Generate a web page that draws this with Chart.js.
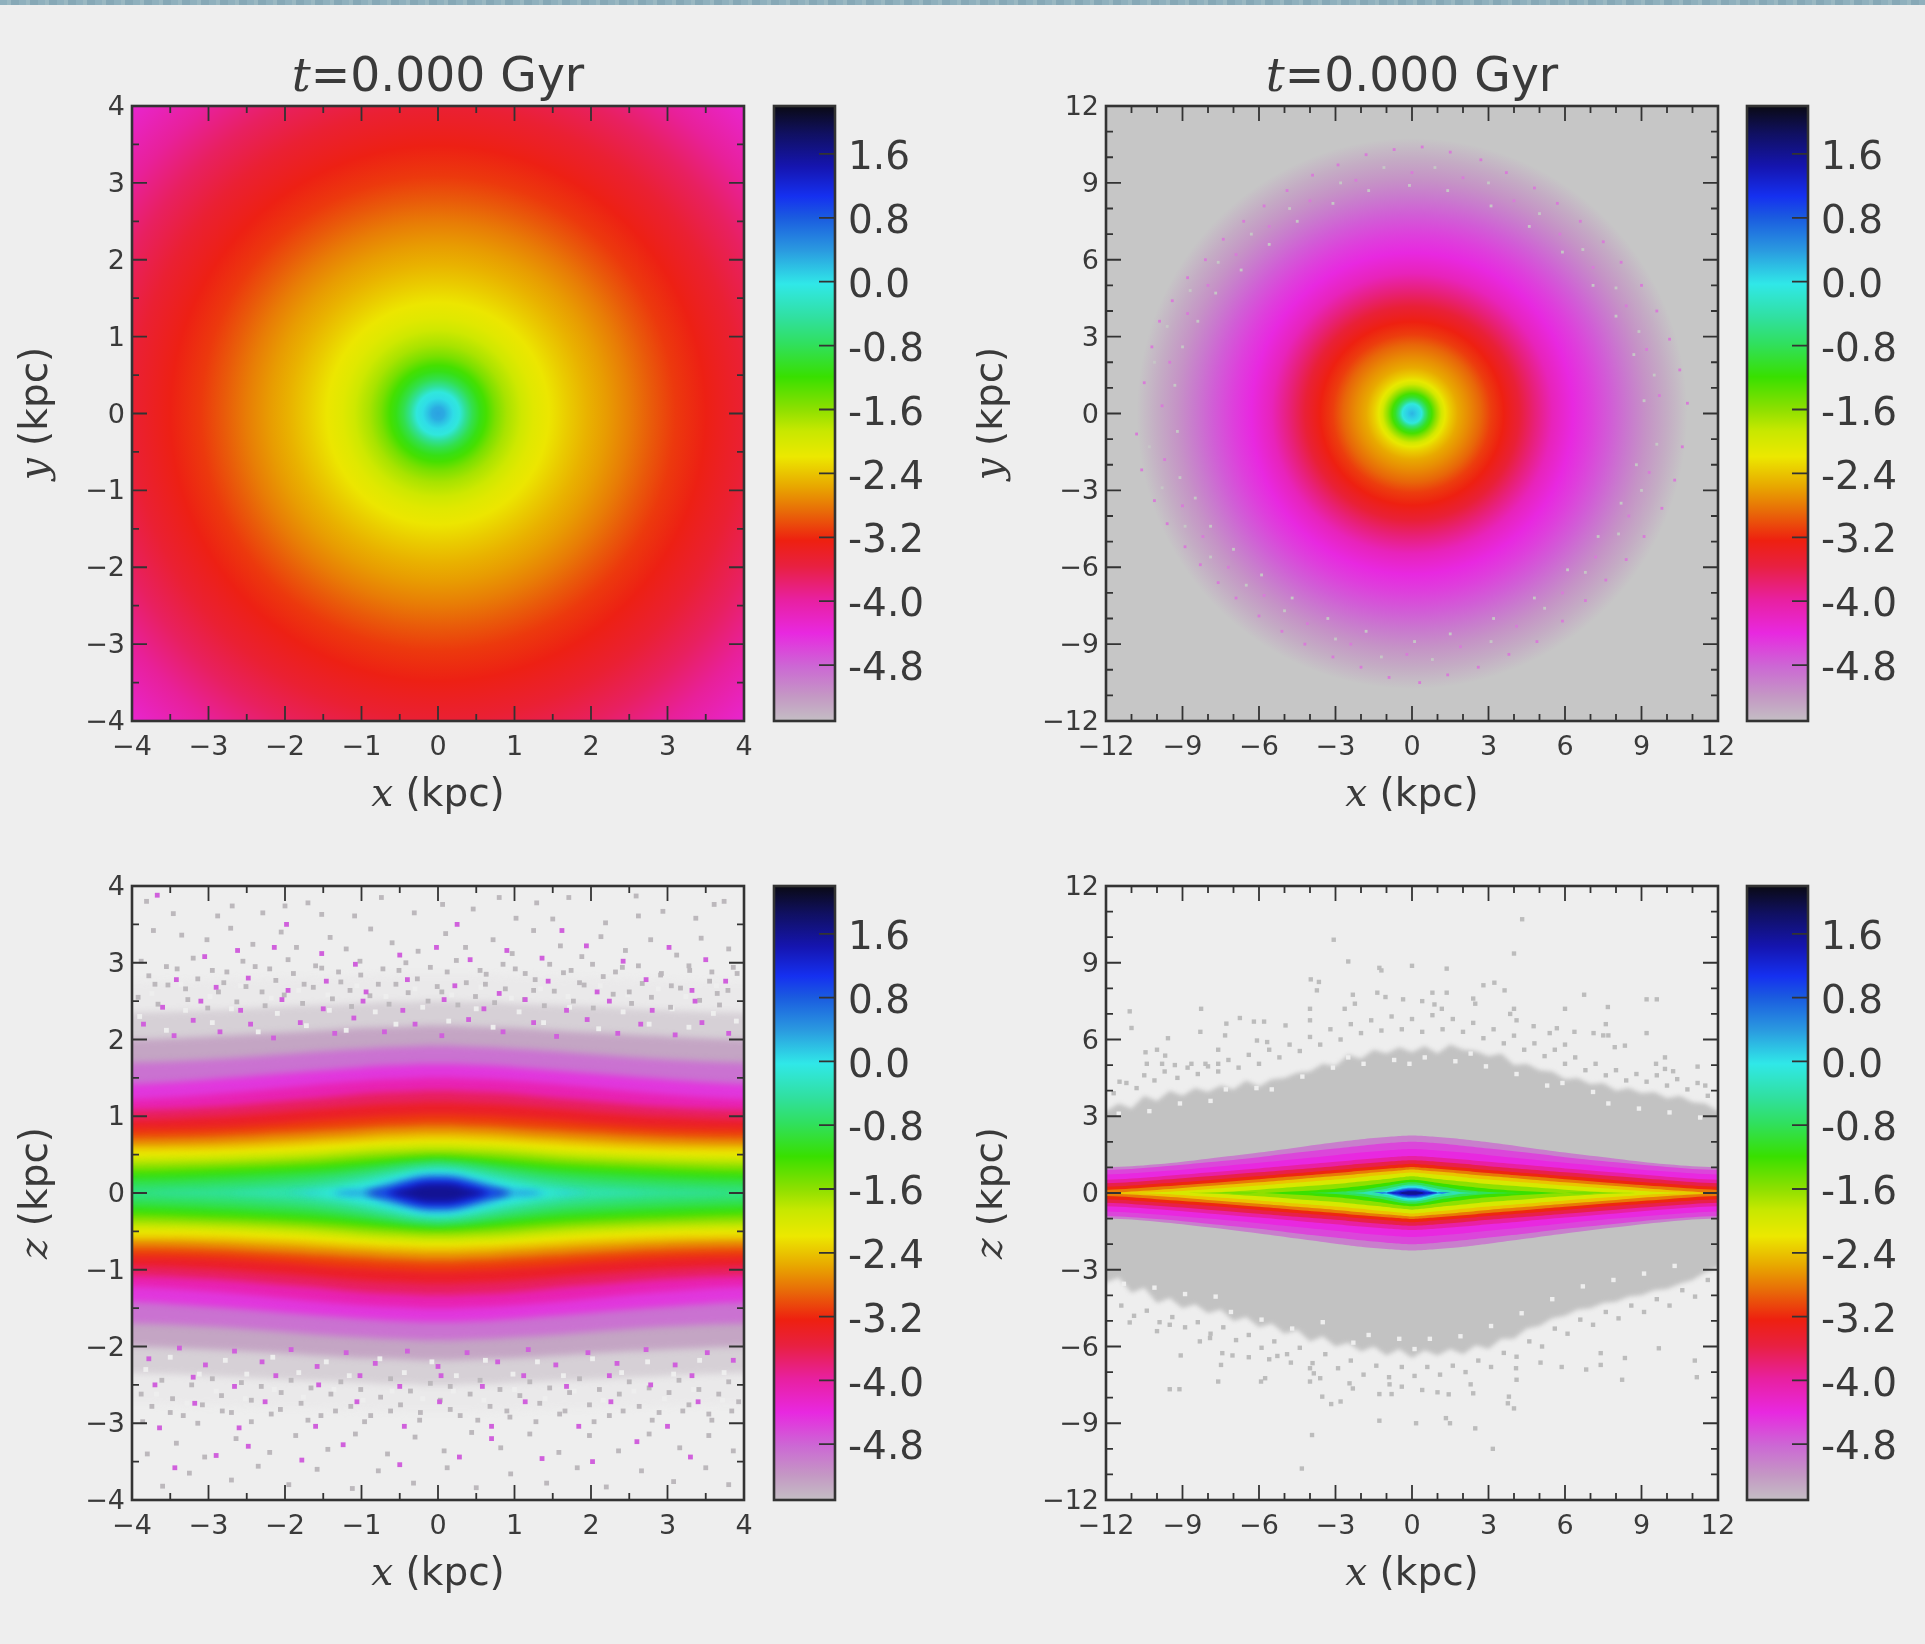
<!DOCTYPE html>
<html>
<head>
<meta charset="utf-8">
<title>t=0.000 Gyr</title>
<script src="https://cdn.jsdelivr.net/npm/chart.js@4"></script>
<style>
  html, body { margin: 0; padding: 0; background: #eeeeee; }
  body { position: relative; width: 1925px; height: 1644px; overflow: hidden; }
  #strip {
    position: absolute; left: 0; top: 0; width: 1925px; height: 5px;
    background: repeating-linear-gradient(90deg, #8fb0bd 0 7px, #9ab8c2 7px 11px, #86a8b6 11px 19px);
  }
  canvas { position: absolute; filter: blur(0.7px); }
</style>
</head>
<body>
<div id="strip"></div>
<script>
'use strict';

/* ---------- data ---------- */

// axis ticks
const innerTicks = [-4, -3, -2, -1, 0, 1, 2, 3, 4];
const innerMinor = [-3.5, -2.5, -1.5, -0.5, 0.5, 1.5, 2.5, 3.5];
const outerTicks = [-12, -9, -6, -3, 0, 3, 6, 9, 12];
const outerMinor = [-11, -10, -8, -7, -5, -4, -2, -1, 1, 2, 4, 5, 7, 8, 10, 11];
const cbarTicks = [1.6, 0.8, 0.0, -0.8, -1.6, -2.4, -3.2, -4.0, -4.8];
const cbarRange = [-5.5, 2.2];

// colour bar: value -> colour (values below -5.5 are the thinned out speckle zone)
const cmapValues = [2.2, 1.86, 1.44, 1.07, 0.81, 0.39, -0.03, -0.45, -0.77, -1.19, -1.61, -1.87, -2.19, -2.56, -2.87, -3.24, -3.56, -3.98, -4.4, -4.82, -5.19, -5.5, -5.9, -6.4];
const cmapColors = ['#0a0a14', '#101060', '#1515b0', '#1530f0', '#1a5ae0', '#2a9ae0', '#30e8e8', '#30e0a0', '#30e060', '#38e000', '#90e000', '#c8e800', '#ece800', '#e8a800', '#e86c08', '#ee2010', '#e82040', '#e820a0', '#e828e0', '#cc68d4', '#c498c4', '#c4bec4', '#dcd6dc', '#eeeeee'];

// face-on profiles, radius (kpc) and value
const xyInnerRadius = [0, 0.08, 0.13, 0.2, 0.28, 0.36, 0.45, 0.55, 0.63, 0.75, 0.9, 1.09, 1.25, 1.45, 1.7, 1.95, 2.2, 2.5, 2.8, 3.1, 3.5, 4, 4.5, 5, 5.4, 5.7];
const xyInnerValue = [0.35, 0.3, 0.18, 0.03, -0.1, -0.5, -0.85, -1.1, -1.25, -1.5, -1.72, -1.92, -2.08, -2.2, -2.36, -2.5, -2.62, -2.78, -2.96, -3.12, -3.27, -3.47, -3.7, -3.95, -4.15, -4.3];
const xyOuterRadius = [0, 0.2, 0.38, 0.5, 0.65, 0.78, 0.95, 1.15, 1.3, 1.5, 1.8, 2.2, 2.7, 3.1, 3.6, 4.2, 4.8, 5.5, 6.3, 7, 7.8, 8.5, 9.2, 10, 10.8];
const xyOuterValue = [0.25, 0.1, -0.1, -0.6, -1.0, -1.25, -1.6, -1.95, -2.15, -2.35, -2.55, -2.7, -2.9, -3.1, -3.25, -3.5, -3.8, -4.15, -4.4, -4.55, -4.75, -4.95, -5.15, -5.35, -5.5];

// grain at the rim of the wide face-on disc
const rimPinkDots = [
  [-10.5, 1.2], [-10.8, -0.8], [-10.2, 2.6], [-10.6, -2.2], [-9.9, 3.6], [-10.1, -3.4], [-9.4, 4.4], [-9.6, -4.3], [-8.8, 5.3], [-8.9, -5.2], [-8.1, 6], [-8.3, -5.9], [-7.4, 6.8], [-7.6, -6.6], [-6.6, 7.5], [-6.9, -7.2],
  [-5.8, 8.1], [-6, -7.9], [-4.9, 8.7], [-5.1, -8.5], [-3.9, 9.3], [-4.2, -9], [-2.9, 9.7], [-3.1, -9.5], [-1.8, 10.1], [-2, -9.9], [-0.7, 10.3], [-0.9, -10.3], [0.4, 10.4], [0.3, -10.5], [1.5, 10.2], [1.4, -10.2],
  [2.7, 9.9], [2.6, -9.9], [3.7, 9.4], [3.8, -9.4], [4.8, 8.8], [4.9, -8.9], [5.7, 8.2], [5.9, -8.1], [6.6, 7.5], [6.8, -7.3], [7.5, 6.7], [7.6, -6.5], [8.2, 5.9], [8.4, -5.7], [9, 5], [9.1, -4.8], [9.6, 4], [9.8, -3.7],
  [10.1, 2.9], [10.3, -2.6], [10.5, 1.7], [10.6, -1.3], [10.8, 0.4], [-9.8, 0.3], [-9.5, 2], [-9.7, -1.8], [-8.8, 3.9], [-9, -3.6], [-8, 5], [-8.2, -4.8], [-6.9, 6.2], [-7.2, -6], [-5.6, 7.3], [-5.8, -7.1],
  [-4, 8.3], [-4.1, -8.2], [-2.2, 9.1], [-2.4, -9], [0, 9.4], [-0.2, -9.4], [2, 9.2], [1.9, -9.1], [4, 8.3], [4.1, -8.3], [5.8, 7], [5.9, -7], [7.1, 5.7], [7.2, -5.6], [8.4, 4.2], [8.5, -4], [9.2, 2.5], [9.3, -2.3], [9.7, 0.7]
];
const rimGreyDots = [
  [-9.3, 1.1], [-9.2, -0.7], [-9, 2.6], [-9.1, -2.5], [-8.4, 3.6], [-8.5, -3.3], [-7.7, 4.7], [-7.9, -4.4], [-6.7, 5.6], [-7, -5.3], [-5.6, 6.6], [-5.9, -6.3], [-4.5, 7.5], [-4.7, -7.2], [-3.1, 8.2], [-3.3, -8],
  [-1.7, 8.7], [-1.8, -8.5], [-0.1, 8.9], [0.1, -8.9], [1.4, 8.7], [1.5, -8.6], [3.1, 8.1], [3.2, -8], [4.6, 7.3], [4.8, -7.2], [5.9, 6.3], [6.1, -6.1], [7.1, 5], [7.3, -4.8], [8, 3.8], [8.2, -3.5], [8.7, 2.3], [8.8, -2], [9.1, 0.5],
  [-10.1, 2], [-10.3, -1.3], [-9.6, 3.4], [-9.8, -2.9], [-8.7, 4.8], [-8.9, -4.4], [-7.6, 5.9], [-7.9, -5.6], [-6.3, 7], [-6.5, -6.7], [-4.8, 8], [-5, -7.7], [-2.8, 9], [-3, -8.8], [-1.1, 9.6], [-1.2, -9.5],
  [0.9, 9.6], [0.8, -9.6], [3, 9], [3.1, -8.9], [5, 7.8], [5.2, -7.6], [6.7, 6.4], [6.8, -6.2], [8, 4.9], [8.1, -4.7], [8.9, 3.2], [9, -3], [9.5, 1.5], [9.6, -1.2]
];

// edge-on contours: half height (kpc) of each level at the listed |x|
const xzInnerX = [0, 0.2, 0.4, 0.7, 1, 1.5, 2, 3, 4];
const xzInnerLevels = [1.6, 1.3, 1.0, 0.7, 0.4, 0.1, -0.1, -0.3, -0.5, -0.7, -0.9, -1.1, -1.3, -1.6, -1.9, -2.2, -2.5, -2.8, -3.1, -3.4, -3.7, -4.1, -4.5, -4.9, -5.3, -5.8, -6.3];
const xzInnerHeights = [
  [0.10, 0.09, 0.04, 0, 0, 0, 0, 0, 0],
  [0.14, 0.13, 0.08, 0, 0, 0, 0, 0, 0],
  [0.17, 0.16, 0.12, 0.03, 0, 0, 0, 0, 0],
  [0.20, 0.19, 0.15, 0.07, 0, 0, 0, 0, 0],
  [0.23, 0.22, 0.18, 0.10, 0.02, 0, 0, 0, 0],
  [0.26, 0.25, 0.21, 0.14, 0.06, 0, 0, 0, 0],
  [0.29, 0.28, 0.25, 0.18, 0.12, 0.03, 0, 0, 0],
  [0.32, 0.31, 0.28, 0.23, 0.17, 0.09, 0.03, 0, 0],
  [0.36, 0.35, 0.33, 0.28, 0.23, 0.16, 0.11, 0.05, 0.02],
  [0.40, 0.39, 0.37, 0.33, 0.29, 0.23, 0.19, 0.14, 0.11],
  [0.42, 0.41, 0.40, 0.37, 0.34, 0.29, 0.26, 0.21, 0.18],
  [0.45, 0.44, 0.43, 0.41, 0.38, 0.34, 0.31, 0.27, 0.24],
  [0.49, 0.49, 0.48, 0.46, 0.44, 0.40, 0.37, 0.33, 0.30],
  [0.56, 0.56, 0.55, 0.54, 0.52, 0.48, 0.45, 0.41, 0.39],
  [0.64, 0.64, 0.63, 0.62, 0.60, 0.56, 0.53, 0.49, 0.47],
  [0.72, 0.72, 0.71, 0.70, 0.68, 0.65, 0.62, 0.58, 0.57],
  [0.81, 0.81, 0.80, 0.79, 0.77, 0.74, 0.71, 0.66, 0.64],
  [0.90, 0.90, 0.89, 0.88, 0.86, 0.83, 0.80, 0.75, 0.73],
  [1.02, 1.02, 1.01, 1.00, 0.98, 0.95, 0.91, 0.85, 0.83],
  [1.18, 1.18, 1.17, 1.16, 1.14, 1.10, 1.06, 0.99, 0.95],
  [1.33, 1.33, 1.32, 1.31, 1.29, 1.24, 1.20, 1.12, 1.08],
  [1.50, 1.50, 1.49, 1.48, 1.46, 1.42, 1.37, 1.28, 1.22],
  [1.68, 1.68, 1.67, 1.66, 1.64, 1.60, 1.56, 1.48, 1.42],
  [1.92, 1.92, 1.91, 1.90, 1.88, 1.85, 1.81, 1.74, 1.70],
  [2.18, 2.18, 2.17, 2.16, 2.15, 2.12, 2.09, 2.04, 2.00],
  [2.50, 2.50, 2.49, 2.49, 2.47, 2.45, 2.43, 2.38, 2.35],
  [2.85, 2.85, 2.85, 2.84, 2.83, 2.81, 2.80, 2.77, 2.75]
];

const xzOuterX = [0, 0.3, 0.6, 1, 1.5, 2, 3, 4.5, 6, 8, 10, 12];
const xzOuterLevels = [1.6, 1.2, 0.8, 0.4, 0.0, -0.4, -0.8, -1.2, -1.6, -2.0, -2.4, -2.8, -3.2, -3.6, -4.0, -4.4, -4.6, -5.0];
const xzOuterHeights = [
  [0.07, 0.05, 0, 0, 0, 0, 0, 0, 0, 0, 0, 0],
  [0.12, 0.10, 0.05, 0, 0, 0, 0, 0, 0, 0, 0, 0],
  [0.17, 0.15, 0.09, 0, 0, 0, 0, 0, 0, 0, 0, 0],
  [0.21, 0.19, 0.13, 0.03, 0, 0, 0, 0, 0, 0, 0, 0],
  [0.27, 0.25, 0.18, 0.08, 0, 0, 0, 0, 0, 0, 0, 0],
  [0.33, 0.31, 0.25, 0.17, 0.10, 0.03, 0, 0, 0, 0, 0, 0],
  [0.42, 0.40, 0.35, 0.27, 0.20, 0.13, 0.04, 0, 0, 0, 0, 0],
  [0.52, 0.50, 0.46, 0.40, 0.33, 0.27, 0.17, 0.07, 0, 0, 0, 0],
  [0.65, 0.63, 0.60, 0.55, 0.50, 0.45, 0.35, 0.24, 0.13, 0.02, 0, 0],
  [0.80, 0.78, 0.75, 0.71, 0.67, 0.62, 0.53, 0.41, 0.29, 0.15, 0.03, 0],
  [0.92, 0.90, 0.87, 0.84, 0.80, 0.75, 0.66, 0.54, 0.42, 0.27, 0.12, 0.02],
  [1.02, 1.00, 0.98, 0.95, 0.91, 0.87, 0.78, 0.66, 0.54, 0.38, 0.24, 0.12],
  [1.14, 1.12, 1.10, 1.07, 1.03, 0.99, 0.90, 0.78, 0.66, 0.50, 0.36, 0.24],
  [1.28, 1.27, 1.25, 1.22, 1.18, 1.14, 1.05, 0.93, 0.81, 0.65, 0.50, 0.38],
  [1.45, 1.44, 1.42, 1.39, 1.35, 1.31, 1.22, 1.09, 0.96, 0.80, 0.64, 0.52],
  [1.72, 1.71, 1.69, 1.66, 1.62, 1.58, 1.48, 1.33, 1.18, 1.00, 0.84, 0.72],
  [2.00, 1.99, 1.97, 1.94, 1.90, 1.85, 1.74, 1.58, 1.40, 1.20, 1.02, 0.90],
  [2.25, 2.24, 2.22, 2.19, 2.15, 2.10, 1.98, 1.78, 1.58, 1.34, 1.12, 1.00]
];

// grey lens of the wide edge-on panel, ragged dense edge
const lensX = [-12.5, -12, -11.5, -11, -10.5, -10, -9.5, -9, -8.5, -8, -7.5, -7, -6.5, -6, -5.5, -5, -4.5, -4, -3.5, -3, -2.5, -2, -1.5, -1, -0.5, 0, 0.5, 1, 1.5, 2, 2.5, 3, 3.5, 4, 4.5, 5, 5.5, 6, 6.5, 7, 7.5, 8, 8.5, 9, 9.5, 10, 10.5, 11, 11.5, 12, 12.5];
const lensTopZ = [3.0, 3.2, 3.5, 3.3, 3.8, 3.6, 4.0, 3.8, 4.1, 3.95, 4.2, 4.05, 4.4, 4.15, 4.45, 4.5, 4.7, 4.75, 5.05, 4.95, 5.4, 5.25, 5.6, 5.45, 5.7, 5.5, 5.75, 5.45, 5.8, 5.6, 5.55, 5.35, 5.45, 5.0, 5.05, 4.8, 4.75, 4.45, 4.5, 4.25, 4.3, 4.0, 4.1, 3.9, 3.95, 3.7, 3.8, 3.55, 3.5, 3.2, 3.0];
const lensBottomZ = [-3.3, -3.5, -3.3, -3.9, -3.7, -4.3, -4.1, -4.5, -4.35, -4.7, -4.55, -5.0, -4.85, -5.25, -5.1, -5.5, -5.35, -5.8, -5.6, -6.0, -5.85, -6.2, -6.0, -6.35, -6.1, -6.45, -6.15, -6.35, -6.1, -6.3, -5.95, -6.1, -5.7, -5.7, -5.3, -5.2, -4.9, -4.8, -4.55, -4.5, -4.3, -4.25, -4.05, -4.0, -3.8, -3.75, -3.55, -3.4, -3.1, -2.9, -2.7];

// sparse dots of the wide edge-on panel
const wideDots = [
  [-3.07, 9.9], [-2.5, 9.05], [-1.28, 8.8], [-1.2, 8.7], [0, 8.88], [1.36, 8.77], [4, 9.36], [4.32, 10.7], [-3.97, 8.35], [-3.65, 8.25], [-3.73, 7.92],
  [-2.32, 7.75], [-1.36, 7.83], [-1.04, 7.66], [-0.35, 7.57], [0.4, 7.5], [0.8, 7.83], [1.36, 7.83], [0.88, 7.37], [1.17, 7.2], [2.8, 8.12], [3.23, 8.22],
  [3.63, 7.92], [2.4, 7.6], [2.48, 7.4], [6.75, 7.75], [9.2, 7.57], [9.6, 7.57], [7.68, 7.27], [6, 7.2], [4, 7.2], [3.85, 7], [4.1, 6.75], [-11.07, 7.1],
  [-11, 6.45], [-8.27, 7.2], [-8.3, 6.3], [-9.57, 6.05], [-7.28, 6.62], [-6.75, 6.84], [-6.2, 6.7], [-5.8, 6.7], [-7.33, 6.16], [-4, 7.2], [-4, 6.75],
  [-2.64, 7.2], [-2.24, 7.4], [-4.96, 6.55], [-6.08, 5.96], [-5.68, 5.9], [-7.6, 5.6], [-10.45, 5.5], [-10, 5.6], [-9.68, 5.37], [-10.4, 5.05], [-9.8, 5.05],
  [-9.3, 5], [-8.65, 5.05], [-8.1, 5.05], [-7.6, 5.05], [7.6, 6.6], [4.77, 6.52], [5.68, 6.44], [6.37, 6.3], [5.4, 6.25], [7.12, 6.25], [7.5, 6.16], [7.7, 6.16],
  [9.2, 6.25], [6, 5.8], [7.95, 5.7], [8.35, 5.76], [9.92, 5.3], [9.57, 5.05], [11.2, 4.94], [9.92, 4.85], [10.24, 4.76], [11.5, 4.2], [-11.47, 4.35],
  [-4.32, -10.77], [-3.92, -9.46], [3.17, -10], [2.48, -9.2], [-1.28, -8.9], [0.16, -9], [1.33, -8.8], [1.49, -9], [4, -8.42], [3.76, -8.22], [3.8, -7.96],
  [-3.52, -7.96], [-3.17, -8.25], [-2.8, -8.15], [-1.28, -7.86], [-0.8, -7.86], [-0.4, -7.57], [0.4, -7.7], [1, -7.79], [1.44, -7.87], [2.4, -7.83], [2.3, -7.48],
  [-0.88, -7.48], [-2.32, -7.64], [-2.45, -7.44], [-9.5, -7.67], [-9.12, -7.67], [-7.6, -7.37], [-5.92, -7.37], [-5.76, -7.24], [-7.49, -6.72], [-7.44, -6.26],
  [-7.04, -6.35], [-6.4, -6.42], [-9.07, -6.35], [-8.32, -5.8], [-7.92, -5.67], [-5.6, -6.5], [-5.28, -6.37], [-4.75, -6.63], [-4, -6.85], [-3.85, -7.05],
  [-3.6, -7.24], [-4, -7.37], [4.08, -6.85], [4.1, -7.3], [5.04, -6.63], [5.87, -6.8], [6.83, -6.9], [7.4, -6.72], [7.4, -6.26], [8.35, -6.45], [8.24, -7.3],
  [11.09, -6.55], [11.17, -7.2], [9.68, -6.07], [-11.07, -5.06], [-10, -5.4], [-9.5, -5.15],
  // loose grains just off the lens edge
  [-11.7, 3.9], [-11.2, 4.3], [-10.8, 4.1], [-10.5, 4.6], [-10.1, 4.4], [-9.7, 4.75], [-9.2, 4.5], [-8.8, 4.9], [-8.4, 4.65], [-8, 4.95], [-7.6, 4.75], [-7.2, 5.2], [-6.8, 4.9], [-6.4, 5.4], [-6, 5.05],
  [-5.6, 5.6], [-5.2, 5.3], [-4.8, 5.8], [-4.4, 5.55], [-4, 6.1], [-3.6, 5.8], [-3.2, 6.4], [-2.8, 6], [-2.4, 6.6], [-2, 6.25], [-1.6, 6.75], [-1.2, 6.35], [-0.8, 6.9], [-0.4, 6.4], [0, 6.8],
  [0.4, 6.3], [0.8, 6.95], [1.2, 6.4], [1.6, 6.8], [2, 6.3], [2.4, 6.65], [2.8, 6.05], [3.2, 6.4], [3.6, 5.85], [4, 6.15], [4.4, 5.6], [4.8, 5.85], [5.2, 5.35], [5.6, 5.6], [6, 5.05], [6.4, 5.3],
  [6.8, 4.8], [7.2, 5.05], [7.6, 4.6], [8, 4.8], [8.4, 4.4], [8.8, 4.65], [9.2, 4.35], [9.6, 4.6], [10, 4.2], [10.4, 4.45], [10.8, 4.05], [11.2, 4.3], [11.6, 3.8], [-11.4, -4.4], [-10.9, -4.8], [-10.4, -4.6],
  [-9.9, -5.05], [-9.4, -4.85], [-8.9, -5.25], [-8.4, -5.05], [-7.9, -5.5], [-7.4, -5.25], [-6.9, -5.75], [-6.4, -5.55], [-5.9, -6.05], [-5.4, -5.8], [-4.9, -6.3], [-4.4, -6.05], [-3.9, -6.65], [-3.4, -6.3], [-2.9, -6.85], [-2.4, -6.55],
  [-1.9, -7.1], [-1.4, -6.75], [-0.9, -7.2], [-0.4, -6.8], [0.1, -7.15], [0.6, -6.8], [1.1, -7.1], [1.6, -6.75], [2.1, -7], [2.6, -6.55], [3.1, -6.8], [3.6, -6.25], [4.1, -6.4], [4.6, -5.8], [5.1, -6], [5.6, -5.3], [6.1, -5.5],
  [6.6, -4.95], [7.1, -5.15], [7.6, -4.65], [8.1, -4.9], [8.6, -4.4], [9.1, -4.65], [9.6, -4.15], [10.1, -4.4], [10.6, -3.8], [11.1, -4.05], [11.6, -3.4]
];
// bare spots punched into the lens near its edge
const wideHoles = [
  [-11.5, 3.1], [-10.3, 3.2], [-9.1, 3.5], [-7.9, 3.6], [-7.3, 4.05], [-6.1, 4.1], [-5.5, 4.05], [-4.3, 4.55], [-3.1, 4.9], [-2.5, 5.3], [-1.9, 5.05], [-0.7, 5.2], [-0.1, 5.05], [0.5, 5.3], [1.7, 5.15], [2.3, 5.45], [2.9, 4.95], [4.1, 4.65], [5.3, 4.2], [5.9, 4.3], [7.1, 3.95], [7.7, 3.5], [8.9, 3.3], [10.1, 3.15], [11.3, 2.95],
  [-11.3, -3.55], [-10.1, -3.7], [-8.9, -3.95], [-7.7, -4.05], [-7.1, -4.65], [-5.9, -4.95], [-4.7, -5.3], [-3.5, -5.05], [-2.3, -5.85], [-1.7, -5.55], [-0.5, -5.7], [0.1, -6.1], [0.7, -5.7], [1.9, -5.6], [3.1, -5.2], [4.3, -4.7], [5.5, -4.15], [6.7, -3.65], [7.9, -3.4], [9.1, -3.15], [10.3, -2.85]
];

// sparse dots of the narrow edge-on panel, grey, pink and bare spots
const narrowGreyDots = [
  [-3.81, 3.8], [-3.46, 3.64], [-2.88, 3.61], [-2.69, 3.74], [-2.29, 3.65], [-2, 3.74], [-1.7, 3.78], [-1.52, 3.63], [-1.09, 3.61], [-0.74, 3.85], [-0.31, 3.65],
  [0.06, 3.76], [0.46, 3.7], [0.8, 3.85], [1.02, 3.58], [1.29, 3.78], [1.5, 3.57], [1.71, 3.85], [2.19, 3.52], [2.59, 3.87], [2.62, 3.61], [2.94, 3.67], [3.37, 3.58],
  [3.61, 3.76], [3.74, 3.8], [-3.72, 3.42], [-3.35, 3.36], [-3.02, 3.3], [-2.71, 3.45], [-2.42, 3.24], [-2.05, 3.4], [-1.85, 3.2], [-1.41, 3.33], [-1.2, 3.18], [-0.88, 3.44],
  [-0.6, 3.26], [-0.26, 3.15], [0.1, 3.38], [0.36, 3.2], [0.72, 3.3], [0.97, 3.12], [1.25, 3.42], [1.6, 3.22], [1.88, 3.08], [2.13, 3.34], [2.45, 3.16], [2.78, 3.3], [3.12, 3.1],
  [3.44, 3.32], [3.8, 3.18], [-3.88, 3.02], [-3.55, 2.95], [-3.2, 3.06], [-2.95, 2.9], [-2.55, 3.02], [-2.2, 2.92], [-1.96, 3.04], [-1.6, 2.96], [-1.3, 2.88], [-1.02, 3.02],
  [-0.72, 2.92], [-0.42, 3], [-0.1, 2.94], [0.24, 3.03], [0.55, 2.9], [0.85, 2.98], [1.14, 2.86], [1.46, 2.98], [1.74, 2.9], [2.02, 2.98], [2.32, 2.88], [2.62, 2.96],
  [2.92, 2.86], [3.28, 2.96], [3.58, 2.88], [3.86, 2.94], [-3.7, 2.72], [-3.3, 2.66], [-2.8, 2.74], [-2.3, 2.62], [-1.75, 2.72], [-1.15, 2.64], [-0.55, 2.72], [0.05, 2.62], [0.62, 2.72],
  [1.25, 2.64], [1.85, 2.74], [2.5, 2.62], [3.05, 2.7], [3.65, 2.6],
  [-3.92, 2.55], [-3.78, 2.83], [-3.66, 2.46], [-3.53, 2.71], [-3.41, 2.92], [-3.27, 2.52], [-3.14, 2.79], [-3.01, 2.41], [-2.87, 2.62], [-2.76, 2.88], [-2.63, 2.49], [-2.51, 2.69], [-2.39, 2.95], [-2.26, 2.44], [-2.12, 2.77], [-2.01, 2.58],
  [-1.89, 2.86], [-1.77, 2.47], [-1.63, 2.68], [-1.52, 2.93], [-1.38, 2.53], [-1.27, 2.75], [-1.13, 2.43], [-1.01, 2.84], [-0.89, 2.57], [-0.78, 2.72], [-0.64, 2.46], [-0.51, 2.9], [-0.39, 2.61], [-0.27, 2.79], [-0.13, 2.5], [-0.01, 2.69],
  [0.12, 2.88], [0.26, 2.45], [0.37, 2.74], [0.49, 2.56], [0.63, 2.85], [0.74, 2.48], [0.88, 2.66], [1.01, 2.92], [1.13, 2.52], [1.27, 2.78], [1.39, 2.44], [1.52, 2.63], [1.64, 2.87], [1.77, 2.5], [1.91, 2.71], [2.03, 2.41], [2.16, 2.82],
  [2.29, 2.59], [2.41, 2.94], [2.53, 2.47], [2.67, 2.73], [2.79, 2.55], [2.91, 2.84], [3.04, 2.42], [3.17, 2.67], [3.29, 2.9], [3.42, 2.51], [3.55, 2.76], [3.68, 2.45], [3.79, 2.64], [3.91, 2.86],
  [-3.6, -3.82], [-3.25, -3.65], [-2.7, -3.74], [-2.35, -3.56], [-1.95, -3.8], [-1.58, -3.6], [-1.12, -3.85], [-0.78, -3.62], [-0.32, -3.78], [0.12, -3.58], [0.5, -3.84], [0.95, -3.66],
  [1.42, -3.78], [1.82, -3.58], [2.2, -3.83], [2.66, -3.62], [3.08, -3.76], [3.5, -3.58], [3.8, -3.8], [-3.8, -3.4], [-3.42, -3.26], [-3.05, -3.44], [-2.64, -3.2], [-2.2, -3.38], [-1.86, -3.16],
  [-1.44, -3.34], [-1.08, -3.14], [-0.66, -3.4], [-0.3, -3.18], [0.08, -3.36], [0.44, -3.12], [0.82, -3.32], [1.2, -3.14], [1.58, -3.38], [1.98, -3.16], [2.36, -3.36], [2.76, -3.14],
  [3.16, -3.32], [3.54, -3.16], [3.86, -3.36], [-3.86, -2.98], [-3.5, -2.86], [-3.14, -3], [-2.82, -2.84], [-2.44, -2.98], [-2.06, -2.82], [-1.7, -2.96], [-1.34, -2.84], [-0.96, -2.98], [-0.62, -2.84],
  [-0.24, -2.96], [0.16, -2.82], [0.52, -2.96], [0.9, -2.84], [1.28, -2.98], [1.66, -2.84], [2.04, -2.98], [2.42, -2.84], [2.8, -2.96], [3.2, -2.84], [3.58, -2.96], [3.84, -2.84],
  [-3.88, -2.62], [-3.74, -2.78], [-3.61, -2.44], [-3.47, -2.68], [-3.33, -2.9], [-3.22, -2.5], [-3.08, -2.76], [-2.95, -2.42], [-2.83, -2.64], [-2.7, -2.86], [-2.57, -2.47], [-2.44, -2.7], [-2.31, -2.52], [-2.18, -2.88], [-2.05, -2.6],
  [-1.92, -2.44], [-1.79, -2.74], [-1.66, -2.54], [-1.53, -2.9], [-1.4, -2.62], [-1.27, -2.46], [-1.14, -2.78], [-1.01, -2.56], [-0.88, -2.9], [-0.75, -2.66], [-0.62, -2.42], [-0.49, -2.76], [-0.36, -2.58], [-0.23, -2.86], [-0.1, -2.48],
  [0.03, -2.7], [0.16, -2.52], [0.29, -2.9], [0.42, -2.62], [0.55, -2.44], [0.68, -2.78], [0.81, -2.56], [0.94, -2.92], [1.07, -2.64], [1.2, -2.46], [1.33, -2.74], [1.46, -2.54], [1.59, -2.88], [1.72, -2.6], [1.85, -2.42], [1.98, -2.76],
  [2.11, -2.56], [2.24, -2.9], [2.37, -2.62], [2.5, -2.46], [2.63, -2.78], [2.76, -2.54], [2.89, -2.86], [3.02, -2.6], [3.15, -2.44], [3.28, -2.76], [3.41, -2.56], [3.54, -2.88], [3.67, -2.62], [3.8, -2.46], [3.93, -2.72]
];
const narrowPinkDots = [
  [-3.67, 3.88], [-1.98, 3.5], [0.25, 3.5], [1.62, 3.42], [-3.05, 3.08], [-2.62, 3.16], [-2.14, 3.2], [-1.52, 3.12], [-1.08, 2.98], [-0.5, 3.1], [-0.02, 3.2], [0.42, 3.04], [0.9, 3.16],
  [1.36, 3.06], [1.94, 3.22], [2.42, 3.02], [3.02, 3.2], [3.5, 3.04], [-3.42, 2.78], [-2.9, 2.68], [-2.48, 2.8], [-1.96, 2.64], [-1.46, 2.76], [-0.94, 2.62], [-0.4, 2.78], [0.22, 2.7], [0.8, 2.6],
  [1.44, 2.76], [2.08, 2.62], [2.72, 2.78], [3.32, 2.64], [3.76, 2.76], [-3.6, 2.42], [-3.1, 2.5], [-2.58, 2.38], [-2.04, 2.52], [-1.5, 2.4], [-0.98, 2.5], [-0.46, 2.38], [0.08, 2.52],
  [0.6, 2.4], [1.14, 2.52], [1.68, 2.38], [2.24, 2.5], [2.8, 2.38], [3.36, 2.5],
  [-3.85, 2.2], [-3.45, 2.05], [-3.2, 2.25], [-2.85, 2.1], [-2.45, 2.2], [-2.15, 2.02], [-1.8, 2.22], [-1.35, 2.08], [-1.1, 2.28], [-0.7, 2.1], [-0.3, 2.2], [0.05, 2.05], [0.4, 2.26], [0.85, 2.1], [1.25, 2.22], [1.55, 2.04], [1.95, 2.26], [2.35, 2.08], [2.65, 2.2], [3.1, 2.06], [3.45, 2.22], [3.8, 2.08],
  [-3.44, -3.58], [-2.9, -3.42], [-2.48, -3.3], [-1.78, -3.48], [-1.24, -3.28], [-0.5, -3.54], [0.28, -3.44], [0.7, -3.2], [1.36, -3.46], [2.02, -3.5], [2.6, -3.24], [3.3, -3.44], [-3.64, -3.06], [-3.18, -2.74], [-2.6, -3.06],
  [-2.26, -2.72], [-1.6, -3.04], [-1.06, -2.72], [-0.44, -3.04], [0.02, -2.72], [0.7, -3.04], [1.14, -2.72], [1.84, -3.04], [2.26, -2.72], [3, -3.04], [3.4, -2.72], [-3.7, -2.5], [-3.2, -2.4], [-2.66, -2.52],
  [-2.12, -2.38], [-1.56, -2.5], [-1.02, -2.38], [-0.5, -2.52], [0.04, -2.38], [0.58, -2.52], [1.12, -2.38], [1.68, -2.52], [2.24, -2.38], [2.78, -2.5], [3.32, -2.38],
  [-3.78, -2.16], [-3.38, -2.02], [-3.04, -2.24], [-2.66, -2.06], [-2.3, -2.2], [-1.92, -2.04], [-1.58, -2.26], [-1.2, -2.08], [-0.82, -2.22], [-0.4, -2.06], [0, -2.26], [0.38, -2.08], [0.78, -2.2], [1.18, -2.04], [1.54, -2.24], [1.96, -2.08], [2.34, -2.22], [2.72, -2.04], [3.1, -2.24], [3.52, -2.08], [3.86, -2.18]
];
const narrowBareDots = [
  [-3.9, 2.3], [-3.55, 2.12], [-3.3, 2.38], [-2.95, 2.22], [-2.7, 2.4], [-2.35, 2.1], [-2.1, 2.34], [-1.72, 2.18], [-1.42, 2.38], [-1.2, 2.12], [-0.82, 2.36], [-0.55, 2.2], [-0.2, 2.42], [0.14, 2.24], [0.5, 2.4], [0.72, 2.16], [1.06, 2.36], [1.38, 2.22], [1.72, 2.42], [2.1, 2.14], [2.42, 2.36], [2.76, 2.2], [3.06, 2.4], [3.28, 2.16], [3.6, 2.34], [3.9, 2.24],
  [-3.74, 2.6], [-3.36, 2.72], [-2.98, 2.56], [-2.58, 2.7], [-2.18, 2.54], [-1.82, 2.64], [-1.44, 2.58], [-1.06, 2.7], [-0.68, 2.56], [-0.3, 2.66], [0.18, 2.58], [0.56, 2.68], [0.96, 2.54], [1.34, 2.66], [1.7, 2.56], [2.12, 2.7], [2.48, 2.58], [2.88, 2.66], [3.24, 2.56], [3.64, 2.7],
  [-3.82, -2.3], [-3.5, -2.14], [-3.12, -2.36], [-2.78, -2.18], [-2.5, -2.36], [-2.16, -2.14], [-1.82, -2.34], [-1.46, -2.2], [-1.16, -2.38], [-0.76, -2.16], [-0.44, -2.34], [-0.08, -2.2], [0.24, -2.38], [0.62, -2.18], [0.98, -2.36], [1.3, -2.2], [1.64, -2.38], [2.02, -2.16], [2.4, -2.34], [2.74, -2.2], [3.08, -2.36], [3.42, -2.18], [3.74, -2.34],
  [-3.68, -2.62], [-3.28, -2.74], [-2.9, -2.58], [-2.52, -2.68], [-2.14, -2.56], [-1.76, -2.66], [-1.36, -2.56], [-0.98, -2.7], [-0.6, -2.58], [-0.2, -2.68], [0.2, -2.58], [0.6, -2.7], [1, -2.56], [1.4, -2.68], [1.78, -2.58], [2.16, -2.7], [2.56, -2.58], [2.96, -2.68], [3.34, -2.56], [3.72, -2.7]
];

/* ---------- layout (page pixels) ---------- */
const columns = [{ plot: 132, cbar: 774 }, { plot: 1106, cbar: 1747 }];
const rows = [{ top: 106, height: 615 }, { top: 886, height: 614 }];
const plotW = 612;
const cbarW = 61;
const marginL = 130, marginT = 70, marginR = 30, marginB = 100;
const textColor = '#3a3a3a';
const sansFont = '"DejaVu Sans"';
const serifItalic = 'italic {s}px "DejaVu Serif"';

/* ---------- helpers ---------- */

/** value -> rgb string, walking the colour bar stops */
function cmap(v) {
  const hex = c => [1, 3, 5].map(i => parseInt(c.slice(i, i + 2), 16));
  if (v >= cmapValues[0]) return cmapColors[0];
  for (let i = 1; i < cmapValues.length; i++) {
    if (v >= cmapValues[i]) {
      const t = (v - cmapValues[i]) / (cmapValues[i - 1] - cmapValues[i]);
      const a = hex(cmapColors[i]), b = hex(cmapColors[i - 1]);
      return `rgb(${a.map((q, k) => Math.round(q + (b[k] - q) * t)).join(',')})`;
    }
  }
  return cmapColors[cmapColors.length - 1];
}

/** draws italic + upright pieces as one centred line at (0,0) */
function drawMath(ctx, italicPart, plainPart, size) {
  const italicFont = serifItalic.replace('{s}', size);
  const plainFont = `${size}px ${sansFont}`;
  ctx.font = italicFont;
  const w1 = ctx.measureText(italicPart).width;
  ctx.font = plainFont;
  const w2 = ctx.measureText(plainPart).width;
  const x = -(w1 + w2) / 2;
  ctx.textAlign = 'left';
  ctx.textBaseline = 'alphabetic';
  ctx.fillStyle = textColor;
  ctx.font = italicFont;
  ctx.fillText(italicPart, x, 0);
  ctx.font = plainFont;
  ctx.fillText(plainPart, x + w1, 0);
}

// background, frame, inward ticks on all sides and the mixed-font labels
const panelFrame = {
  id: 'panelFrame',
  beforeDatasetsDraw(chart, args, opts) {
    const a = chart.chartArea, ctx = chart.ctx;
    ctx.fillStyle = opts.background;
    ctx.fillRect(a.left, a.top, a.right - a.left, a.bottom - a.top);
    // the contour fills get soft edges, so the steps between levels do not show
    if (opts.softEdge) ctx.filter = `blur(${opts.softEdge}px)`;
  },
  beforeDatasetDraw(chart, args) {
    // this runs after the filler, the dots stay sharp
    if (chart.data.datasets[args.index].isDots) chart.ctx.filter = 'none';
  },
  afterDatasetsDraw(chart) {
    chart.ctx.filter = 'none';
  },
  afterDraw(chart, args, opts) {
    const a = chart.chartArea, ctx = chart.ctx;
    const x = chart.scales.x, y = chart.scales.y;
    ctx.save();
    ctx.strokeStyle = '#333333';
    ctx.lineCap = 'butt';
    const marks = (list, len) => {
      ctx.beginPath();
      list.forEach(v => {
        const px = x.getPixelForValue(v), py = y.getPixelForValue(v);
        ctx.moveTo(px, a.top); ctx.lineTo(px, a.top + len);
        ctx.moveTo(px, a.bottom); ctx.lineTo(px, a.bottom - len);
        ctx.moveTo(a.left, py); ctx.lineTo(a.left + len, py);
        ctx.moveTo(a.right, py); ctx.lineTo(a.right - len, py);
      });
      ctx.stroke();
    };
    ctx.lineWidth = 1.8;
    marks(opts.major, 15);
    marks(opts.minor, 7);
    ctx.lineWidth = 2.6;
    ctx.strokeRect(a.left, a.top, a.right - a.left, a.bottom - a.top);

    const cx = (a.left + a.right) / 2, cy = (a.top + a.bottom) / 2;
    if (opts.title) {
      ctx.save();
      ctx.translate(cx, a.top - 15);
      drawMath(ctx, 't', '=0.000 Gyr', 47.2);
      ctx.restore();
    }
    ctx.save();
    ctx.translate(cx, a.bottom + 85);
    drawMath(ctx, 'x', ' (kpc)', 39);
    ctx.restore();
    ctx.save();
    ctx.translate(a.left - opts.yLabelGap, cy);
    ctx.rotate(-Math.PI / 2);
    drawMath(ctx, opts.yName, ' (kpc)', 39);
    ctx.restore();
    ctx.restore();
  }
};

function axisOptions(min, max, ticks, isX) {
  return {
    type: 'linear',
    min, max,
    grid: { display: false, drawTicks: false },
    border: { display: false },
    afterBuildTicks: s => { s.ticks = ticks.map(v => ({ value: v })); },
    afterFit: s => { if (isX) s.height = marginB; else s.width = marginL; },
    ticks: {
      autoSkip: false,
      maxRotation: 0,
      padding: isX ? 11 : 7,
      labelOffset: isX ? 0 : 2,
      color: textColor,
      font: { family: sansFont, size: 27 },
      callback: v => String(v).replace('-', '\u2212')
    }
  };
}

function makeCanvas(left, top, w, h) {
  const c = document.createElement('canvas');
  c.width = w; c.height = h;
  c.style.left = left + 'px';
  c.style.top = top + 'px';
  document.body.appendChild(c);
  return c;
}

/** one heat panel, `datasets` come from the builders below */
function drawPanel(col, row, datasets, opts) {
  const pos = rows[row];
  const canvas = makeCanvas(columns[col].plot - marginL, pos.top - marginT, marginL + plotW + marginR, marginT + pos.height + marginB);
  const span = opts.ticks[opts.ticks.length - 1];
  new Chart(canvas, {
    type: 'scatter',
    data: { datasets },
    plugins: [panelFrame],
    options: {
      responsive: false,
      animation: false,
      events: [],
      layout: { padding: { top: marginT, right: marginR, left: 0, bottom: 0 } },
      scales: {
        x: axisOptions(-span, span, opts.ticks, true),
        y: axisOptions(-span, span, opts.ticks, false)
      },
      plugins: {
        legend: { display: false },
        tooltip: { enabled: false },
        panelFrame: {
          background: opts.background,
          softEdge: opts.softEdge,
          major: opts.ticks,
          minor: opts.minor,
          title: row === 0,
          yName: row === 0 ? 'y' : 'z',
          yLabelGap: col === 0 ? 85 : 104
        }
      }
    }
  });
}

/** face-on panel: one disc, shaded along its radius through the profile, fading into `rim` */
function ringDataset(radii, values, rim) {
  const outer = radii[radii.length - 1];
  const pixelRadius = chart => Math.abs(chart.scales.x.getPixelForValue(outer) - chart.scales.x.getPixelForValue(0));
  return {
    data: [{ x: 0, y: 0 }],
    clip: 0,
    pointStyle: 'circle',
    pointBorderWidth: 0,
    pointRadius: c => pixelRadius(c.chart) || 0,
    pointBackgroundColor: c => {
      const R = pixelRadius(c.chart);
      // scales have no pixels yet on the very first option pass
      if (!Number.isFinite(R) || R <= 0) return cmap(values[0]);
      const cx = c.chart.scales.x.getPixelForValue(0), cy = c.chart.scales.y.getPixelForValue(0);
      const g = c.chart.ctx.createRadialGradient(cx, cy, 0, cx, cy, R);
      radii.forEach((r, i) => g.addColorStop(r / outer, i === radii.length - 1 && rim ? rim : cmap(values[i])));
      return g;
    }
  };
}

/** a curve, filled down to the dataset that follows it when `fill` is set */
function curveDataset(points, color, fill, tension) {
  return {
    data: points,
    showLine: true,
    fill,
    tension,
    borderWidth: 0,
    pointRadius: 0,
    backgroundColor: color,
    clip: 0
  };
}

/** mirrors a half height row over x=0; the last value runs on past the axis edge */
function mirrored(xs, heights, sign) {
  const last = xs.length - 1;
  const points = [{ x: -xs[last] * 1.2, y: sign * heights[last] }];
  for (let i = last; i > 0; i--) points.push({ x: -xs[i], y: sign * heights[i] });
  xs.forEach((x, i) => points.push({ x, y: sign * heights[i] }));
  points.push({ x: xs[last] * 1.2, y: sign * heights[last] });
  return points;
}

function dotDataset(pairs, color, size) {
  return {
    isDots: true,
    data: pairs.map(p => ({ x: p[0], y: p[1] })),
    pointStyle: 'rect',
    pointRadius: size,
    pointBorderWidth: 0,
    pointBackgroundColor: color,
    showLine: false
  };
}

// chart.js paints dataset 0 last, so inner contours go first
function bandDatasets(xs, levels, heights) {
  const out = [];
  levels.forEach((lv, i) => {
    out.push(curveDataset(mirrored(xs, heights[i], 1), cmap(lv), '+1', 0.4));
    out.push(curveDataset(mirrored(xs, heights[i], -1), cmap(lv), false, 0.4));
  });
  return out;
}

/* ---------- colour bars ---------- */
function drawColorbar(col, row) {
  const pos = rows[row];
  const left = 10, right = 120, pad = 70;
  const canvas = makeCanvas(columns[col].cbar - left, pos.top - pad, left + cbarW + right, pos.height + 2 * pad);
  new Chart(canvas, {
    type: 'bar',
    data: {
      labels: [''],
      datasets: [{
        data: [cbarRange],
        barPercentage: 1,
        categoryPercentage: 1,
        borderWidth: 0,
        backgroundColor: c => {
          const sy = c.chart.scales.y;
          const y0 = sy.getPixelForValue(cbarRange[1]), y1 = sy.getPixelForValue(cbarRange[0]);
          if (!Number.isFinite(y0) || !Number.isFinite(y1)) return cmapColors[0];
          const g = c.chart.ctx.createLinearGradient(0, y0, 0, y1);
          cmapValues.forEach((v, i) => {
            if (v >= cbarRange[0]) g.addColorStop((cbarRange[1] - v) / (cbarRange[1] - cbarRange[0]), cmapColors[i]);
          });
          return g;
        }
      }]
    },
    plugins: [{
      id: 'cbarFrame',
      afterDraw(chart) {
        const a = chart.chartArea, ctx = chart.ctx, y = chart.scales.y;
        ctx.save();
        ctx.strokeStyle = '#333333';
        ctx.lineWidth = 1.8;
        ctx.beginPath();
        cbarTicks.forEach(v => {
          ctx.moveTo(a.right, y.getPixelForValue(v));
          ctx.lineTo(a.right - 16, y.getPixelForValue(v));
        });
        ctx.stroke();
        ctx.lineWidth = 2.6;
        ctx.strokeRect(a.left, a.top, a.right - a.left, a.bottom - a.top);
        ctx.restore();
      }
    }],
    options: {
      responsive: false,
      animation: false,
      events: [],
      layout: { padding: { top: pad, bottom: pad, left, right: 0 } },
      scales: {
        x: { display: false },
        y: {
          type: 'linear',
          position: 'right',
          min: cbarRange[0], max: cbarRange[1],
          grid: { display: false, drawTicks: false },
          border: { display: false },
          afterBuildTicks: s => { s.ticks = cbarTicks.map(v => ({ value: v })); },
          afterFit: s => { s.width = right; },
          ticks: {
            autoSkip: false,
            padding: 13,
            labelOffset: 5,
            color: textColor,
            font: { family: sansFont, size: 39 },
            callback: v => v.toFixed(1)
          }
        }
      },
      plugins: { legend: { display: false }, tooltip: { enabled: false } }
    }
  });
}

/* ---------- the four panels ---------- */
drawPanel(0, 0, [ringDataset(xyInnerRadius, xyInnerValue)], { ticks: innerTicks, minor: innerMinor, background: '#ee2080' });
drawPanel(1, 0, [
  dotDataset(rimGreyDots, '#c6c6c6', 2),
  dotDataset(rimPinkDots, '#d87cd8', 2),
  ringDataset(xyOuterRadius, xyOuterValue, '#c6c6c6')
], { ticks: outerTicks, minor: outerMinor, background: '#c6c6c6' });

drawPanel(0, 1, [
  dotDataset(narrowPinkDots, '#d060dc', 3.4),
  dotDataset(narrowGreyDots, '#bcb8bc', 3.4),
  dotDataset(narrowBareDots, '#eeeeee', 3.4)
].concat(bandDatasets(xzInnerX, xzInnerLevels, xzInnerHeights)), { ticks: innerTicks, minor: innerMinor, background: '#eeeeee', softEdge: 3 });

const lensTop = lensX.map((x, i) => ({ x, y: lensTopZ[i] }));
const lensBottom = lensX.map((x, i) => ({ x, y: lensBottomZ[i] }));
drawPanel(1, 1, bandDatasets(xzOuterX, xzOuterLevels, xzOuterHeights).concat([
  dotDataset(wideHoles, '#eeeeee', 3.1),
  dotDataset(wideDots, '#bcbcbc', 3.1),
  curveDataset(lensTop, '#c2c2c2', '+1', 0),
  curveDataset(lensBottom, '#c2c2c2', false, 0)
]), { ticks: outerTicks, minor: outerMinor, background: '#eeeeee', softEdge: 2 });

[0, 1].forEach(col => [0, 1].forEach(row => drawColorbar(col, row)));
</script>
</body>
</html>
